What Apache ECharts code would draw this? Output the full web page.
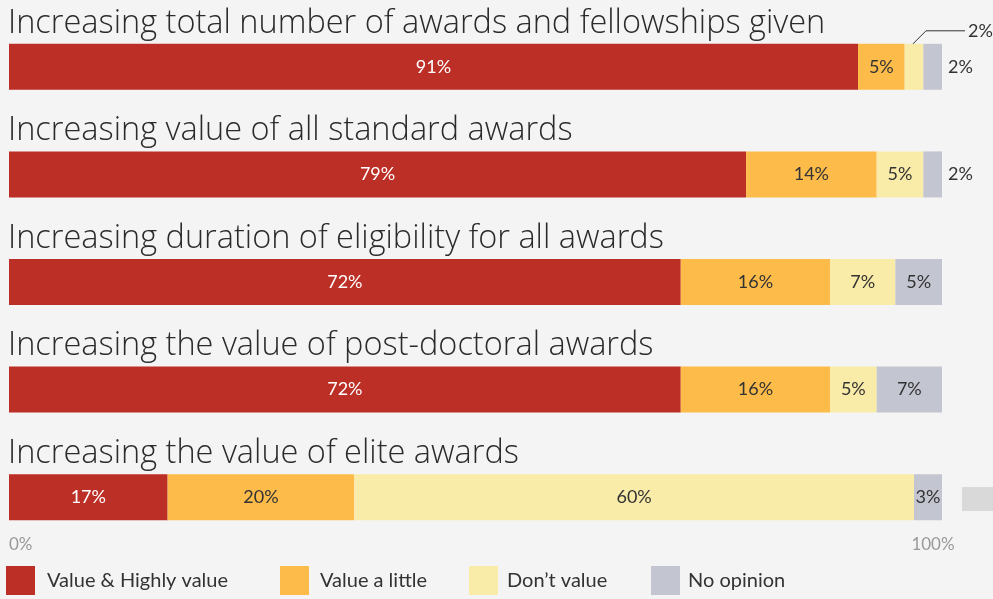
<!DOCTYPE html>
<html>
<head>
<meta charset="utf-8">
<script src="https://cdn.jsdelivr.net/npm/echarts@6/dist/echarts.min.js"></script>
<style>
  html, body { margin: 0; padding: 0; background: #f4f4f4; }
  #chart { width: 993px; height: 599px; }
</style>
</head>
<body>
<div id="chart"></div>
<script>
// Survey options (one bar per option)
const options = [
  'Increasing total number of awards and fellowships given',
  'Increasing value of all standard awards',
  'Increasing duration of eligibility for all awards',
  'Increasing the value of post-doctoral awards',
  'Increasing the value of elite awards'
];

// Response shares, percent
const highlyValue = [91, 79, 72, 72, 17];
const valueLittle = [5, 14, 16, 16, 20];
const dontValue   = [2, 5, 7, 5, 60];
const noOpinion   = [2, 2, 5, 7, 3];

const seriesNames = ['Value & Highly value', 'Value a little', 'Don\u2019t value', 'No opinion'];
const colors = ['#bc2f26', '#fdbb4a', '#f9eba8', '#c3c5d0'];
const axisTicks = ['0%', '100%'];

const labelFont = 'Lato';
const titleFont = 'Open Sans';

function makeData(values, seriesIdx) {
  return values.map(function (v, i) {
    const item = { value: v };
    // narrow grey segments on the first two rows carry their label outside
    if (seriesIdx === 3 && (i === 0 || i === 1)) {
      item.label = { position: 'right', distance: 6 };
    }
    // the thin "Don't value" slice on the first row is labelled by a callout
    if (seriesIdx === 2 && i === 0) {
      item.label = { position: 'top' };
    }
    return item;
  });
}

const allValues = [highlyValue, valueLittle, dontValue, noOpinion];

const series = allValues.map(function (vals, s) {
  return {
    name: seriesNames[s],
    type: 'bar',
    stack: 'total',
    barWidth: 46,
    data: makeData(vals, s),
    itemStyle: { color: colors[s] },
    label: {
      show: true,
      position: 'inside',
      formatter: '{c}%',
      fontFamily: labelFont,
      fontSize: 18,
      color: s === 0 ? '#ffffff' : '#333333'
    },
    labelLayout: s === 2 ? function (p) {
      if (p.dataIndex !== 0) return {};
      return {
        x: p.rect.x + p.rect.width / 2 + 54,
        y: p.rect.y - 13,
        align: 'left',
        verticalAlign: 'middle'
      };
    } : undefined,
    emphasis: { disabled: true }
  };
});

// one legend block per answer so each entry sits at its own column
const legendLefts = [6, 280, 469, 651];
const legendTextPad = [7, 6, 4, 3];
const legends = seriesNames.map(function (name, i) {
  return {
    left: legendLefts[i],
    bottom: 4,
    padding: 0,
    itemWidth: 29,
    itemHeight: 29,
    icon: 'rect',
    selectedMode: false,
    textStyle: {
      fontFamily: labelFont, fontSize: 20, color: '#333',
      padding: [0, 0, 0, legendTextPad[i]]
    },
    data: [name]
  };
});

const chart = echarts.init(document.getElementById('chart'));
chart.setOption({
  backgroundColor: '#f4f4f4',
  animation: false,
  grid: {
    left: 9, right: 51, top: 13, bottom: 48,
    outerBoundsMode: 'none'
  },
  legend: legends,
  xAxis: {
    type: 'value',
    min: 0,
    max: 100,
    interval: 100,
    offset: -23,
    splitLine: { show: false },
    axisLine: { show: false },
    axisTick: { show: false },
    axisLabel: {
      alignMinLabel: 'left',
      alignMaxLabel: 'center',
      color: '#999',
      fontFamily: labelFont,
      fontSize: 17,
      formatter: function (v) {
        return v === 0 ? '{a|' + axisTicks[0] + '}' : '{b|' + axisTicks[1] + '}';
      },
      rich: {
        a: { color: '#999', fontFamily: labelFont, fontSize: 17 },
        b: { color: '#999', fontFamily: labelFont, fontSize: 17, padding: [0, 18, 0, 0] }
      }
    }
  },
  yAxis: {
    type: 'category',
    inverse: true,
    data: options,
    axisLine: { show: false },
    axisTick: { show: false },
    axisLabel: {
      interval: 0,
      hideOverlap: false,
      inside: true,
      margin: -1,
      align: 'left',
      verticalAlign: 'bottom',
      padding: [0, 0, 27, 0],
      color: '#2b2b2b',
      fontFamily: titleFont,
      fontWeight: 300,
      fontSize: 32.5
    }
  },
  series: series
});

// callout leader for the first row's "Don't value" slice, anchored to the bar's scale
const barTop = chart.convertToPixel({ yAxisIndex: 0 }, 0) - 23;
const calloutX = chart.convertToPixel({ xAxisIndex: 0 }, highlyValue[0] + valueLittle[0] + dontValue[0] / 2);
chart.setOption({
  graphic: [{
    type: 'polyline',
    shape: { points: [[calloutX - 2, barTop + 1], [calloutX + 12, barTop - 13], [calloutX + 51, barTop - 13]] },
    style: { stroke: '#333', lineWidth: 1, fill: null },
    silent: true
  }, {
    type: 'rect',
    shape: { x: 962, y: 487, width: 31, height: 24 },
    style: { fill: '#d9d9d9' },
    silent: true
  }]
});
</script>
</body>
</html>
